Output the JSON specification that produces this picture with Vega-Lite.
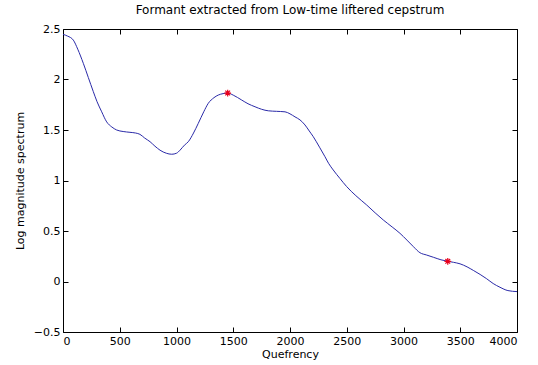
{
  "$schema": "https://vega.github.io/schema/vega-lite/v6.json",
  "autosize": "none",
  "width": 454,
  "height": 303,
  "padding": {"left": 63, "top": 29, "right": 21, "bottom": 33},
  "background": "white",
  "title": {"text": "Formant extracted from Low-time liftered cepstrum", "fontSize": 12, "fontWeight": "normal", "font": "DejaVu Sans", "color": "black", "offset": 6},
  "config": {
    "view": {"stroke": "black", "strokeWidth": 1},
    "axis": {"grid": false, "domain": false, "tickSize": -5, "tickColor": "black", "labelFont": "DejaVu Sans", "labelFontSize": 11, "labelColor": "black", "titleFont": "DejaVu Sans", "titleFontSize": 11, "titleFontWeight": "normal", "titleColor": "black"}
  },
  "datasets": {
    "curve": [
      {"q": 0, "v": 2.447}, {"q": 40, "v": 2.43}, {"q": 91, "v": 2.39}, {"q": 130, "v": 2.30}, {"q": 179, "v": 2.16},
      {"q": 223, "v": 2.02}, {"q": 267, "v": 1.88}, {"q": 300, "v": 1.78}, {"q": 341, "v": 1.68},
      {"q": 385, "v": 1.58}, {"q": 430, "v": 1.53}, {"q": 473, "v": 1.50}, {"q": 530, "v": 1.485},
      {"q": 590, "v": 1.477}, {"q": 640, "v": 1.47}, {"q": 678, "v": 1.457}, {"q": 720, "v": 1.42},
      {"q": 767, "v": 1.384}, {"q": 810, "v": 1.34}, {"q": 855, "v": 1.30}, {"q": 910, "v": 1.27},
      {"q": 958, "v": 1.26}, {"q": 1000, "v": 1.27}, {"q": 1031, "v": 1.30}, {"q": 1070, "v": 1.35},
      {"q": 1104, "v": 1.384}, {"q": 1150, "v": 1.47}, {"q": 1192, "v": 1.566}, {"q": 1240, "v": 1.68},
      {"q": 1280, "v": 1.764}, {"q": 1330, "v": 1.82}, {"q": 1368, "v": 1.846}, {"q": 1410, "v": 1.86},
      {"q": 1451, "v": 1.866}, {"q": 1500, "v": 1.845}, {"q": 1574, "v": 1.797}, {"q": 1630, "v": 1.76},
      {"q": 1692, "v": 1.73}, {"q": 1750, "v": 1.705}, {"q": 1809, "v": 1.69}, {"q": 1880, "v": 1.685},
      {"q": 1956, "v": 1.68}, {"q": 2000, "v": 1.66}, {"q": 2044, "v": 1.63}, {"q": 2088, "v": 1.60},
      {"q": 2132, "v": 1.55}, {"q": 2170, "v": 1.49}, {"q": 2205, "v": 1.434}, {"q": 2260, "v": 1.33},
      {"q": 2308, "v": 1.236}, {"q": 2340, "v": 1.17}, {"q": 2381, "v": 1.104}, {"q": 2440, "v": 1.02},
      {"q": 2499, "v": 0.94}, {"q": 2580, "v": 0.85}, {"q": 2676, "v": 0.757}, {"q": 2750, "v": 0.68},
      {"q": 2822, "v": 0.609}, {"q": 2900, "v": 0.54}, {"q": 2969, "v": 0.477}, {"q": 3030, "v": 0.41},
      {"q": 3087, "v": 0.345}, {"q": 3145, "v": 0.285}, {"q": 3204, "v": 0.262}, {"q": 3263, "v": 0.24},
      {"q": 3330, "v": 0.215}, {"q": 3390, "v": 0.20}, {"q": 3440, "v": 0.19}, {"q": 3498, "v": 0.175},
      {"q": 3560, "v": 0.145}, {"q": 3615, "v": 0.11}, {"q": 3675, "v": 0.07}, {"q": 3733, "v": 0.027},
      {"q": 3790, "v": -0.02}, {"q": 3850, "v": -0.057}, {"q": 3920, "v": -0.09}, {"q": 4000, "v": -0.1}
    ],
    "peaks": [
      {"q": 1451, "v": 1.866},
      {"q": 3390, "v": 0.20}
    ]
  },
  "layer": [
    {
      "data": {"name": "curve"},
      "mark": {"type": "line", "color": "#2a2aa8", "strokeWidth": 1, "interpolate": "monotone"},
      "encoding": {
        "x": {"field": "q", "type": "quantitative", "scale": {"domain": [0, 4000], "nice": false},
          "axis": {"orient": "bottom", "title": "Quefrency", "format": "d", "values": [0, 500, 1000, 1500, 2000, 2500, 3000, 3500, 4000], "labelPadding": 8, "titlePadding": 2}},
        "y": {"field": "v", "type": "quantitative", "scale": {"domain": [-0.5, 2.5], "nice": false, "zero": false},
          "axis": {"orient": "left", "title": "Log magnitude spectrum", "format": "~g", "values": [-0.5, 0, 0.5, 1, 1.5, 2, 2.5], "labelPadding": 8, "titlePadding": 8}}
      }
    },
    {
      "data": {"name": "peaks"},
      "mark": {"type": "point", "shape": "M-1,0L1,0M0,-1L0,1M-0.7,-0.7L0.7,0.7M-0.7,0.7L0.7,-0.7", "filled": false, "stroke": "#e8001c", "strokeWidth": 1.2, "size": 45, "opacity": 1},
      "encoding": {
        "x": {"field": "q", "type": "quantitative", "scale": {"domain": [0, 4000], "nice": false},
          "axis": {"orient": "top", "title": null, "labels": false, "values": [0, 500, 1000, 1500, 2000, 2500, 3000, 3500, 4000]}},
        "y": {"field": "v", "type": "quantitative", "scale": {"domain": [-0.5, 2.5], "nice": false, "zero": false},
          "axis": {"orient": "right", "title": null, "labels": false, "values": [-0.5, 0, 0.5, 1, 1.5, 2, 2.5]}}
      }
    }
  ],
  "resolve": {"axis": {"x": "independent", "y": "independent"}}
}
